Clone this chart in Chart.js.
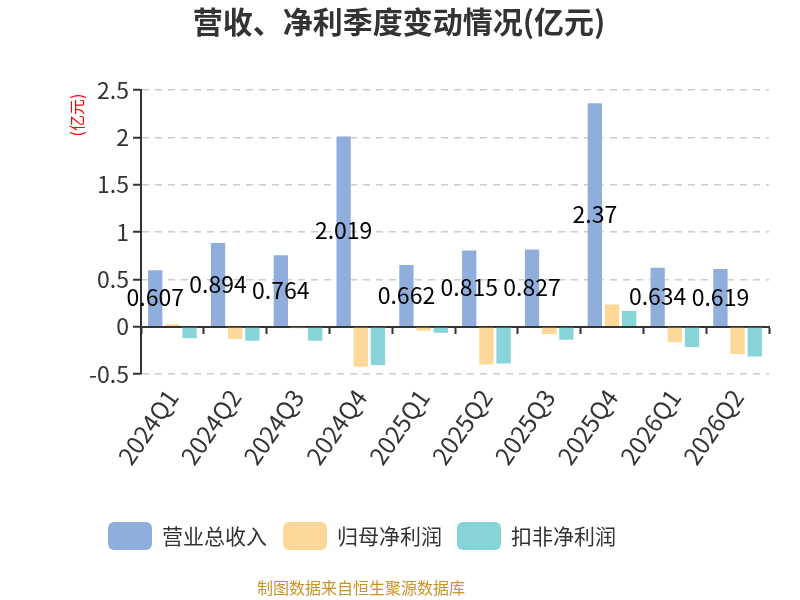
<!DOCTYPE html>
<html lang="zh">
<head>
  <meta charset="UTF-8" />
  <title>营收、净利季度变动情况</title>
  <script src="https://cdn.jsdelivr.net/npm/chart.js"></script>
  <style>
    html, body { margin: 0; padding: 0; background: #fff; }
    #box { width: 800px; height: 600px; }
  </style>
</head>
<body>
  <div id="box">
    <canvas id="qChart" width="800" height="600"></canvas>
  </div>

  <script>
    // 数据
    const quarters = ['2024Q1', '2024Q2', '2024Q3', '2024Q4', '2025Q1', '2025Q2', '2025Q3', '2025Q4', '2026Q1', '2026Q2'];
    const revenue = [0.607, 0.894, 0.764, 2.019, 0.662, 0.815, 0.827, 2.37, 0.634, 0.619];
    const netProfit = [0.036, -0.141, -0.028, -0.434, -0.053, -0.409, -0.088, 0.244, -0.176, -0.300];
    const deductedProfit = [-0.134, -0.159, -0.159, -0.416, -0.074, -0.399, -0.148, 0.177, -0.226, -0.325];
    const seriesNames = ['营业总收入', '归母净利润', '扣非净利润'];
    const seriesColors = ['#8faedb', '#fed898', '#87d5d9'];
    const yTicks = [-0.5, 0, 0.5, 1, 1.5, 2, 2.5];

    const FONT = '"Noto Sans CJK SC", "Noto Sans", sans-serif';

    // 标题、单位、图例、数据来源 + 柱内数值
    const decorPlugin = {
      id: 'decor',
      afterDatasetsDraw(chart) {
        const ctx = chart.ctx;
        // 营业总收入 数值标签（柱子中部）
        const meta = chart.getDatasetMeta(0);
        ctx.save();
        ctx.font = '23px ' + FONT;
        ctx.fillStyle = '#000';
        ctx.textAlign = 'center';
        ctx.textBaseline = 'middle';
        meta.data.forEach((bar, i) => {
          const v = chart.data.datasets[0].data[i];
          ctx.fillText(String(v), bar.x, (bar.y + bar.base) / 2);
        });
        ctx.restore();
      },
      afterDraw(chart) {
        const ctx = chart.ctx;
        ctx.save();
        // 标题
        ctx.font = 'bold 30px ' + FONT;
        ctx.fillStyle = '#333';
        ctx.textAlign = 'center';
        ctx.textBaseline = 'middle';
        ctx.fillText('营收、净利季度变动情况(亿元)', 399, 22);

        // 单位
        ctx.save();
        ctx.translate(77, 115);
        ctx.rotate(-Math.PI / 2);
        ctx.font = '16px ' + FONT;
        ctx.fillStyle = '#ff0000';
        ctx.fillText('(亿元)', 0, 0);
        ctx.restore();

        // 图例
        const legendX = [108, 283, 457];
        ctx.font = '21px ' + FONT;
        ctx.textAlign = 'left';
        chart.data.datasets.forEach((ds, i) => {
          ctx.fillStyle = ds.backgroundColor;
          ctx.beginPath();
          ctx.roundRect(legendX[i], 522, 44, 28, 6);
          ctx.fill();
          ctx.fillStyle = '#333';
          ctx.fillText(ds.label, legendX[i] + 54, 536);
        });

        // 数据来源
        ctx.font = '16px ' + FONT;
        ctx.fillStyle = '#c9922b';
        ctx.textAlign = 'center';
        ctx.fillText('制图数据来自恒生聚源数据库', 361, 588);
        ctx.restore();
      }
    };

    const values = [revenue, netProfit, deductedProfit];

    new Chart(document.getElementById('qChart'), {
      type: 'bar',
      data: {
        labels: quarters,
        datasets: values.map((arr, i) => ({
          label: seriesNames[i],
          data: arr,
          backgroundColor: seriesColors[i],
          borderColor: 'rgba(255,255,255,0.45)',
          borderWidth: 1,
          categoryPercentage: 0.82,
          barPercentage: 0.95,
          xAxisID: 'x'
        }))
      },
      options: {
        responsive: false,
        animation: false,
        layout: { padding: { top: 90, right: 31, bottom: 0, left: 0 } },
        plugins: {
          legend: { display: false },
          title: { display: false },
          tooltip: { enabled: false }
        },
        scales: {
          x: {
            type: 'category',
            position: 'bottom',
            grid: { display: false, drawTicks: false },
            border: { display: false },
            ticks: {
              color: '#333',
              font: { size: 24, family: FONT },
              minRotation: 55,
              maxRotation: 55,
              padding: 10
            },
            afterFit(s) { s.height = 226; }
          },
          xZero: {
            type: 'category',
            labels: quarters,
            position: { y: 0 },
            offset: true,
            grid: {
              drawOnChartArea: false,
              drawTicks: true,
              tickLength: 6,
              tickColor: '#333',
              tickWidth: 2,
              offset: true
            },
            border: { display: true, color: '#333', width: 2 },
            ticks: { display: false }
          },
          y: {
            min: -0.5,
            max: 2.5,
            afterBuildTicks(s) { s.ticks = yTicks.map(v => ({ value: v })); },
            grid: {
              color: '#cccccc',
              lineWidth: 1.5,
              tickColor: '#333',
              tickLength: 8,
              tickWidth: 2
            },
            border: { display: true, color: '#333', width: 2, dash: [7, 6] },
            ticks: {
              color: '#333',
              font: { size: 23, family: FONT },
              padding: 4,
              callback: v => String(Number(v))
            },
            afterFit(s) { s.width = 141; }
          }
        }
      },
      plugins: [decorPlugin]
    });
  </script>
</body>
</html>
